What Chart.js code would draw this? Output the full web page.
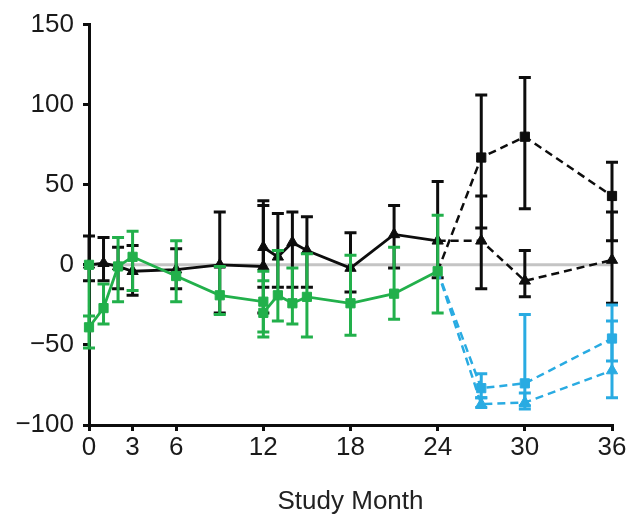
<!DOCTYPE html>
<html>
<head>
<meta charset="utf-8">
<script src="https://cdn.jsdelivr.net/npm/chart.js@4.4.1/dist/chart.umd.min.js"></script>
<style>
  body { margin: 0; background: #fff; }
</style>
</head>
<body>
<canvas id="chart" width="628" height="521"></canvas>
<script>
// tick labels
const xTicks = [0, 3, 6, 12, 18, 24, 30, 36];
const yTicks = [-100, -50, 0, 50, 100, 150];

// green squares, months 0-24 (two readings at month 0 and 12)
const greenMonths = [0, 0, 1, 2, 3, 6, 9, 12, 12, 13, 14, 15, 18, 21, 24];
const greenValues = [0, -39, -27, -1, 5, -7, -19, -23, -30, -19, -24, -20, -24, -18, -4];
const greenLow    = [null, -52, -37, -23, -16, -23, -31, -42, -45, -35, -37, -45, -44, -34, -30];
const greenHigh   = [null, -32, -12, 17, 21, 15, -1, -4, -10, 9, -2, 7, 6, 11, 31];

// black triangles, months 0-24
const blackMonths = [0, 1, 2, 3, 6, 9, 12, 12, 13, 14, 15, 18, 21, 24];
const blackValues = [0, 1, -1, -4, -3, 0, -1, 11, 5, 14, 9, -2, 19, 15];
const blackLow    = [-10, -10, -15, -19, -15, -30, -30, -14, -14, -14, -14, -17, -2, -8];
const blackHigh   = [18, 17, 11, 12, 10, 33, 37, 40, 32, 33, 30, 20, 37, 52];

// follow-up, months 24-36
const lateMonths = [24, 27, 30, 36];
const blackTriValues = [15, 15, -10, 3];
const blackTriLow    = [null, -15, -20, -24];
const blackTriHigh   = [null, 43, 9, 33];
const blackSqValues  = [-4, 67, 80, 43];
const blackSqLow     = [null, 23, 35, 15];
const blackSqHigh    = [null, 106, 117, 64];
const blueSqValues   = [-4, -77, -74, -46];
const blueSqLow      = [null, -83, -88, -60];
const blueSqHigh     = [null, -68, -31, -25];
const blueTriValues  = [-4, -87, -86, -66];
const blueTriLow     = [null, -89, -90, -83];
const blueTriHigh    = [null, -83, -80, -35];

const GREEN = '#22b04b';
const BLUE = '#29abe2';
const BLACK = '#0d0d0d';

function pts(xs, ys) {
  return xs.map((x, i) => ({ x: x, y: ys[i] }));
}

// draws vertical error bars with caps before each dataset
const errorBars = {
  id: 'errorBars',
  beforeDatasetDraw(chart, args) {
    const ds = chart.data.datasets[args.index];
    if (!ds.errLow) return;
    const ctx = chart.ctx;
    const x = chart.scales.x, y = chart.scales.y;
    ctx.save();
    ctx.strokeStyle = ds.borderColor;
    ctx.lineWidth = 3;
    ctx.setLineDash([]);
    ds.data.forEach((p, i) => {
      const lo = ds.errLow[i], hi = ds.errHigh[i];
      if (lo == null) return;
      const px = x.getPixelForValue(p.x);
      const yl = y.getPixelForValue(lo);
      const yh = y.getPixelForValue(hi);
      ctx.beginPath();
      ctx.moveTo(px, yl); ctx.lineTo(px, yh);
      ctx.moveTo(px - 6, yl); ctx.lineTo(px + 6, yl);
      ctx.moveTo(px - 6, yh); ctx.lineTo(px + 6, yh);
      ctx.stroke();
    });
    ctx.restore();
  }
};

function firstHidden(n) {
  return Array.from({ length: n }, (_, i) => i === 0 ? 0 : 6.5);
}

const datasets = [
  {
    data: [{ x: 0, y: 0 }, { x: 36, y: 0 }],
    borderColor: '#c4c4c4', borderWidth: 3, pointRadius: 0, order: 10
  },
  {
    data: pts(blackMonths, blackValues), errLow: blackLow, errHigh: blackHigh,
    borderColor: BLACK, backgroundColor: BLACK, borderWidth: 2.8,
    pointStyle: 'triangle', pointRadius: 6.5, order: 5
  },
  {
    data: pts(lateMonths, blackTriValues), errLow: blackTriLow, errHigh: blackTriHigh,
    borderColor: BLACK, backgroundColor: BLACK, borderWidth: 2.5, borderDash: [8, 5],
    pointStyle: 'triangle', pointRadius: firstHidden(4), order: 5
  },
  {
    data: pts(lateMonths, blackSqValues), errLow: blackSqLow, errHigh: blackSqHigh,
    borderColor: BLACK, backgroundColor: BLACK, borderWidth: 2.5, borderDash: [8, 5],
    pointStyle: 'rect', pointRadius: firstHidden(4), order: 5
  },
  {
    data: pts(lateMonths, blueSqValues), errLow: blueSqLow, errHigh: blueSqHigh,
    borderColor: BLUE, backgroundColor: BLUE, borderWidth: 2.5, borderDash: [8, 5],
    pointStyle: 'rect', pointRadius: firstHidden(4), order: 3
  },
  {
    data: pts(lateMonths, blueTriValues), errLow: blueTriLow, errHigh: blueTriHigh,
    borderColor: BLUE, backgroundColor: BLUE, borderWidth: 2.5, borderDash: [8, 5],
    pointStyle: 'triangle', pointRadius: firstHidden(4), order: 3
  },
  {
    data: pts(greenMonths, greenValues), errLow: greenLow, errHigh: greenHigh,
    borderColor: GREEN, backgroundColor: GREEN, borderWidth: 2.8,
    pointStyle: 'rect', pointRadius: 6.5, order: 1
  }
];
datasets.forEach(d => { d.clip = false; d.tension = 0; d.pointBorderWidth = 1; });

new Chart(document.getElementById('chart'), {
  type: 'line',
  data: { datasets: datasets },
  plugins: [errorBars],
  options: {
    responsive: false,
    animation: false,
    devicePixelRatio: 1,
    layout: { padding: { left: 0, right: 16, top: 19, bottom: 0 } },
    plugins: { legend: { display: false }, tooltip: { enabled: false } },
    scales: {
      x: {
        type: 'linear', min: 0, max: 36,
        afterBuildTicks: s => { s.ticks = xTicks.map(v => ({ value: v })); },
        afterFit: s => { s.height = 96; },
        border: { display: true, color: BLACK, width: 3 },
        grid: { display: true, drawOnChartArea: false, drawTicks: true, tickLength: 6, color: BLACK, lineWidth: 3 },
        ticks: { color: '#1a1a1a', font: { family: 'Liberation Sans', size: 26 }, padding: 1, maxRotation: 0 },
        title: { display: true, text: 'Study Month', color: '#222', font: { family: 'Liberation Sans', size: 26 }, padding: { top: 19 } }
      },
      y: {
        type: 'linear', min: -100, max: 150,
        afterBuildTicks: s => { s.ticks = yTicks.map(v => ({ value: v })); },
        afterFit: s => { s.width = 89; },
        border: { display: true, color: BLACK, width: 3 },
        grid: { display: true, drawOnChartArea: false, drawTicks: true, tickLength: 6, color: BLACK, lineWidth: 3 },
        ticks: {
          color: '#1a1a1a', font: { family: 'Liberation Sans', size: 26 }, padding: 9,
          callback: v => String(v).replace('-', '\u2212')
        }
      }
    }
  }
});
</script>
</body>
</html>
